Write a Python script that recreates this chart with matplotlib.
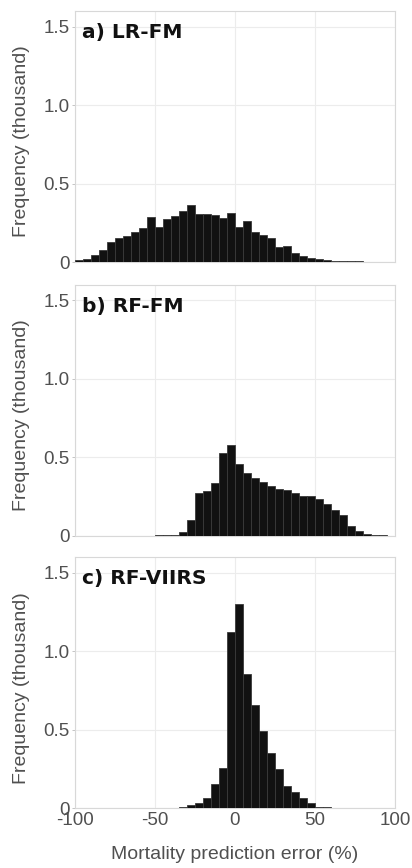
import numpy as np
import matplotlib
matplotlib.use("Agg")
import matplotlib.pyplot as plt

# Bin edges: -100 .. 100 in steps of 5 (40 bins)
bin_left = list(range(-100, 100, 5))
bin_width = 5

# Frequencies (thousand)
lr_fm = [0.013, 0.021, 0.043, 0.079, 0.128, 0.155, 0.164, 0.191, 0.219, 0.287,
         0.223, 0.276, 0.291, 0.325, 0.362, 0.305, 0.305, 0.300, 0.278, 0.310,
         0.225, 0.262, 0.193, 0.172, 0.151, 0.098, 0.104, 0.060, 0.038, 0.028,
         0.019, 0.013, 0.008, 0.008, 0.004, 0.004, 0.002, 0.002, 0.001, 0.001]
rf_fm = [0.0, 0.0, 0.0, 0.0, 0.0, 0.0, 0.0, 0.0, 0.0, 0.0,
         0.002, 0.004, 0.006, 0.026, 0.098, 0.272, 0.283, 0.336, 0.530, 0.580,
         0.458, 0.400, 0.370, 0.340, 0.318, 0.300, 0.290, 0.275, 0.250, 0.252,
         0.235, 0.205, 0.162, 0.130, 0.064, 0.033, 0.010, 0.006, 0.003, 0.001]
rf_viirs = [0.0, 0.0, 0.0, 0.0, 0.0, 0.0, 0.0, 0.0, 0.0, 0.0,
            0.002, 0.003, 0.005, 0.010, 0.019, 0.032, 0.064, 0.155, 0.254, 1.123,
            1.303, 0.858, 0.657, 0.492, 0.350, 0.248, 0.145, 0.106, 0.064, 0.036,
            0.011, 0.008, 0.004, 0.003, 0.002, 0.001, 0.0, 0.0, 0.0, 0.0]

panels = [("a) LR-FM", lr_fm), ("b) RF-FM", rf_fm), ("c) RF-VIIRS", rf_viirs)]
yticks = [0, 0.5, 1.0, 1.5]
ytick_labels = ["0", "0.5", "1.0", "1.5"]
xticks = [-100, -50, 0, 50, 100]
xtick_labels = ["-100", "-50", "0", "50", "100"]

W, H = 412, 868
fig = plt.figure(figsize=(W / 100, H / 100), dpi=100)

left = 75 / W
width = 320 / W
height = 251 / H
zero_y = [262, 535.7, 808.3]

tick_font = ["Liberation Sans", "DejaVu Sans"]
grey = "#505050"

for i, ((title, vals), zy) in enumerate(zip(panels, zero_y)):
    ax = fig.add_axes([left, 1 - zy / H, width, height])
    ax.bar(bin_left, vals, width=bin_width, align="edge", color="#111111",
           edgecolor="#3a3a3a", linewidth=0.6, zorder=3)
    ax.set_xlim(-100, 100)
    ax.set_ylim(0, 1.6)
    ax.set_yticks(yticks)
    ax.set_yticklabels(ytick_labels, fontsize=13.5, color=grey, family=tick_font)
    ax.set_xticks(xticks)
    if i == 2:
        ax.set_xticklabels(xtick_labels, fontsize=13.5, color=grey, family=tick_font)
        ax.set_xlabel("Mortality prediction error (%)", fontsize=14, color=grey,
                      family=tick_font, va="top")
        ax.xaxis.set_label_coords(0.5, -0.152)
    else:
        ax.set_xticklabels([])
    ax.tick_params(axis="x", length=0, pad=3)
    ax.tick_params(axis="y", length=2, width=0.6, color="#bbbbbb", pad=2)
    ax.grid(True, color="#ececec", linewidth=0.8, zorder=0)
    for s in ax.spines.values():
        s.set_color("#d8d8d8")
        s.set_linewidth(0.8)
    ax.set_ylabel("Frequency (thousand)", fontsize=14, color=grey,
                  family=tick_font)
    ax.yaxis.set_label_coords(-0.14, 0.48)
    ax.text(0.022, 0.915, title, transform=ax.transAxes, fontsize=14.5,
            fontweight="bold", family=["DejaVu Sans"],
            va="center", ha="left", color="#111111", zorder=5)

fig.savefig("out.png", dpi=100)
